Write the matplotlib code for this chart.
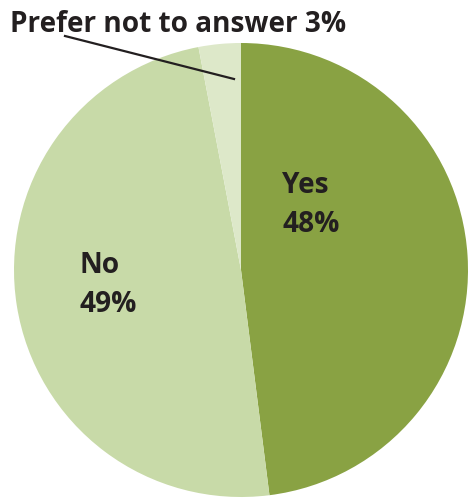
import matplotlib.pyplot as plt

labels = ["Yes", "No", "Prefer not to answer"]
shares = [48, 49, 3]
colors = ["#89a243", "#c8daa8", "#dde8c9"]

W, H = 469, 502
fig = plt.figure(figsize=(W / 100, H / 100), dpi=100)

# pie centre and radius in pixels
cx, cy, r = 241, 271, 227
ax = fig.add_axes([(cx - r) / W, (H - cy - r) / H, 2 * r / W, 2 * r / H])
ax.pie(shares, colors=colors, startangle=90, counterclock=False,
       wedgeprops=dict(linewidth=0))
ax.set_xlim(-1, 1)
ax.set_ylim(-1, 1)
ax.set_aspect("equal")
ax.axis("off")


def px(x, y):
    return x / W, 1 - y / H


font = dict(family=["Open Sans", "DejaVu Sans"], fontweight="bold",
            fontsize=20.2, color="#231f20", va="baseline", ha="left")

fig.text(*px(10, 32), f"{labels[2]} {shares[2]}%", **font)
fig.text(*px(282, 193), labels[0], **font)
fig.text(*px(282, 232), f"{shares[0]}%", **font)
fig.text(*px(79, 273), labels[1], **font)
fig.text(*px(79, 312), f"{shares[1]}%", **font)

# leader line to the small slice
(x0, y0), (x1, y1) = px(65, 37), px(234, 80)
fig.add_artist(plt.Line2D([x0, x1], [y0, y1], transform=fig.transFigure,
                          color="#231f20", linewidth=1.6))

fig.savefig("out.png", dpi=100)
plt.close()
